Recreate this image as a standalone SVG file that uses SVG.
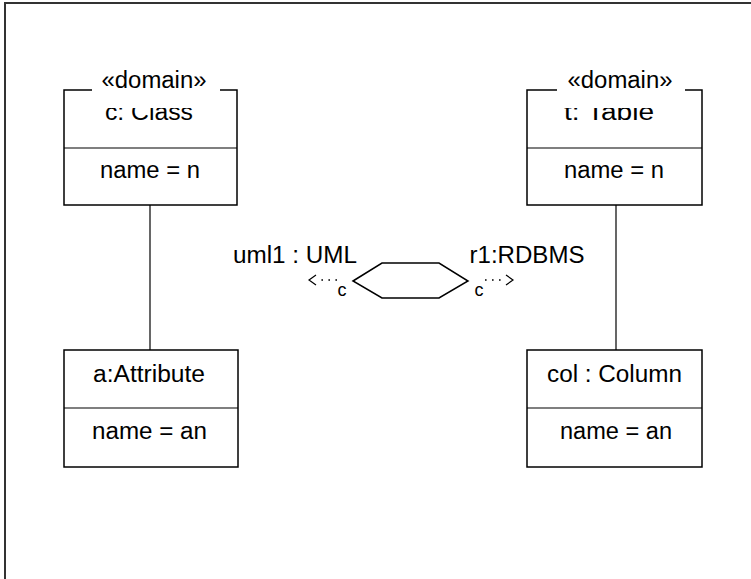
<svg xmlns="http://www.w3.org/2000/svg" width="751" height="579" viewBox="0 0 751 579">
<style>
  text { font-family: "Liberation Sans", Arial, sans-serif; fill: #000; }
  .t { font-size: 23px; text-anchor: middle; }
  .s { font-size: 18px; text-anchor: middle; }
  .box { fill: #fff; stroke: #000; stroke-width: 1.5; }
  .ln { stroke: #000; stroke-width: 1.2; fill: none; }
  .dot { stroke: #000; stroke-width: 1.6; fill: none; stroke-dasharray: 1.6 5.4; }
</style>
<defs>
  <clipPath id="clipL"><rect x="64" y="108" width="174" height="38"/></clipPath>
  <clipPath id="clipR"><rect x="527" y="108" width="176" height="38"/></clipPath>
</defs>
<rect width="751" height="579" fill="#fff"/>
<path d="M5 579 V3 H751" fill="none" stroke="#333" stroke-width="2"/>

<g id="connectors">
  <line class="ln" x1="150" y1="205" x2="150" y2="350"/>
  <line class="ln" x1="616" y1="205" x2="616" y2="350"/>
  <line class="dot" x1="337" y1="280" x2="317" y2="280"/>
  <polyline class="ln" points="316,275 309,280 316,285"/>
  <text class="s" x="342" y="296">c</text>
  <line class="dot" x1="485" y1="280" x2="505" y2="280"/>
  <polyline class="ln" points="506,275 513,280 506,285"/>
  <text class="s" x="479" y="296">c</text>
</g>

<g id="classC">
  <rect class="box" x="64" y="90" width="173" height="115"/>
  <line class="ln" x1="64" y1="148" x2="237" y2="148" stroke-width="1.5"/>
  <rect x="92" y="86" width="128" height="8" fill="#fff"/>
  <text class="t" x="154" y="88" textLength="105" lengthAdjust="spacingAndGlyphs">«domain»</text>
  <text class="t" x="149" y="120" textLength="88" lengthAdjust="spacingAndGlyphs" clip-path="url(#clipL)">c: Class</text>
  <text class="t" x="150" y="178" textLength="100" lengthAdjust="spacingAndGlyphs">name = n</text>
</g>

<g id="tableT">
  <rect class="box" x="527" y="90" width="175" height="115"/>
  <line class="ln" x1="527" y1="148" x2="702" y2="148" stroke-width="1.5"/>
  <rect x="557" y="86" width="128" height="8" fill="#fff"/>
  <text class="t" x="620" y="88" textLength="105" lengthAdjust="spacingAndGlyphs">«domain»</text>
  <text class="t" x="609" y="120" textLength="90" lengthAdjust="spacingAndGlyphs" clip-path="url(#clipR)">t: Table</text>
  <text class="t" x="614" y="178" textLength="100" lengthAdjust="spacingAndGlyphs">name = n</text>
</g>

<g id="attrA">
  <rect class="box" x="64" y="350" width="174" height="117"/>
  <line class="ln" x1="64" y1="408" x2="238" y2="408" stroke-width="1.5"/>
  <text class="t" x="149" y="382" textLength="112" lengthAdjust="spacingAndGlyphs">a:Attribute</text>
  <text class="t" x="149.5" y="439" textLength="115" lengthAdjust="spacingAndGlyphs">name = an</text>
</g>

<g id="columnCol">
  <rect class="box" x="527" y="350" width="175" height="117"/>
  <line class="ln" x1="527" y1="408" x2="702" y2="408" stroke-width="1.5"/>
  <text class="t" x="614.5" y="382" textLength="135" lengthAdjust="spacingAndGlyphs">col : Column</text>
  <text class="t" x="616" y="439" textLength="112" lengthAdjust="spacingAndGlyphs">name = an</text>
</g>

<g id="relation">
  <polygon points="353,281 382,263 439,263 468,281 439,298 382,298" fill="#fff" stroke="#000" stroke-width="1.5"/>
  <text class="t" x="295" y="263" textLength="124" lengthAdjust="spacingAndGlyphs">uml1 : UML</text>
  <text class="t" x="527" y="263" textLength="115" lengthAdjust="spacingAndGlyphs">r1:RDBMS</text>
</g>
</svg>
